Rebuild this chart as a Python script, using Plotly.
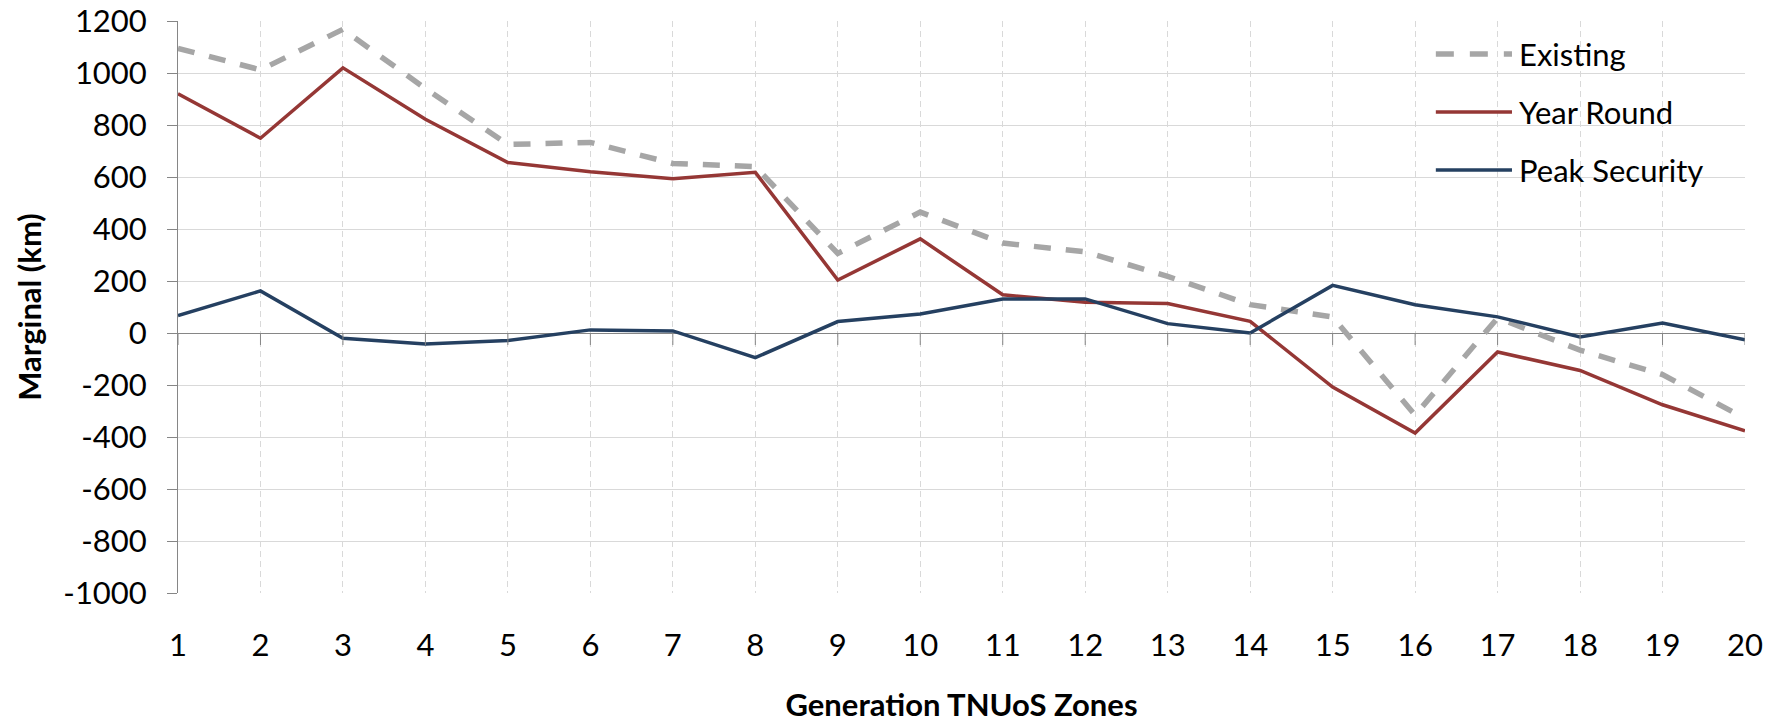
import plotly.graph_objects as go

# Generation TNUoS zones and marginal values (km)
zones = list(range(1, 21))
existing = [1095, 1012, 1168, 940, 725, 733, 652, 640, 306, 465,
            346, 312, 218, 109, 62, -316, 58, -66, -160, -328]
year_round = [920, 749, 1020, 822, 656, 620, 593, 618, 204, 362,
              147, 118, 113, 45, -208, -385, -73, -144, -276, -376]
peak_security = [67, 162, -20, -42, -29, 12, 8, -95, 44, 73,
                 131, 131, 36, 0, 183, 109, 62, -15, 38, -26]

series_names = ["Existing", "Year Round", "Peak Security"]
series_values = [existing, year_round, peak_security]

# excel prints a plain hyphen for negatives, plotly would use a real minus sign
y_ticks = list(range(-1000, 1201, 200))
y_tick_labels = [str(v) for v in y_ticks]

FONT = "Lato"
FS = 31
styles = {
    "Existing": dict(color="#A6A6A6", width=5.5, dash="17px,15px"),
    "Year Round": dict(color="#953735", width=3.5, dash="solid"),
    "Peak Security": dict(color="#254061", width=3.5, dash="solid"),
}

fig = go.Figure()
for name, vals in zip(series_names, series_values):
    fig.add_trace(go.Scatter(x=zones, y=vals, mode="lines", name=name,
                             line=styles[name], showlegend=False))

# small tick marks hanging under the zero line, like the excel category axis
for z in zones:
    fig.add_shape(type="line", xref="x", yref="y", ysizemode="pixel", yanchor=0,
                  x0=z, x1=z, y0=0, y1=-12, line=dict(color="#868686", width=1))

# hand-made legend so the line samples are as long as the original
legend_y = [0.9423, 0.8409, 0.7395]
for name, ly in zip(series_names, legend_y):
    st = styles[name]
    fig.add_shape(type="line", xref="paper", yref="paper", x0=0.8027, x1=0.8513,
                  y0=ly, y1=ly,
                  line=dict(color=st["color"], width=st["width"],
                            dash="18px,16px" if name == "Existing" else "solid"))
    fig.add_annotation(x=0.8545, y=ly, xref="paper", yref="paper", text=name,
                       showarrow=False, xanchor="left", yanchor="middle",
                       font=dict(family=FONT, size=FS, color="#000000"))

# the page body keeps its default 8px margin, so the figure is 8px smaller
fig.update_layout(
    width=1769, height=715,
    margin=dict(l=170, r=32, t=13, b=130),
    plot_bgcolor="#FFFFFF", paper_bgcolor="#FFFFFF",
    font=dict(family=FONT, size=FS, color="#000000"),
)
fig.update_xaxes(
    range=[1, 20], tickmode="linear", tick0=1, dtick=1, automargin=False,
    showgrid=True, gridcolor="#D9D9D9", gridwidth=1, griddash="6px,4px",
    showline=False, zeroline=False, ticks="", ticklabelstandoff=31,
    ticklabeloverflow="allow",
    title=dict(text="<b>Generation TNUoS Zones</b>", standoff=33,
               font=dict(family=FONT, size=FS)),
)
fig.update_yaxes(
    range=[-1000, 1200], tickmode="array", tickvals=y_ticks, ticktext=y_tick_labels,
    automargin=False, ticklabeloverflow="allow",
    showgrid=True, gridcolor="#D9D9D9", gridwidth=1,
    showline=True, linecolor="#868686", linewidth=1,
    ticks="outside", ticklen=10, tickcolor="#868686",
    zeroline=True, zerolinecolor="#868686", zerolinewidth=1,
    ticklabelstandoff=14,
    title=dict(text="<b>Marginal (km)</b>", standoff=12,
               font=dict(family=FONT, size=FS)),
)

fig.write_html("out.html")
